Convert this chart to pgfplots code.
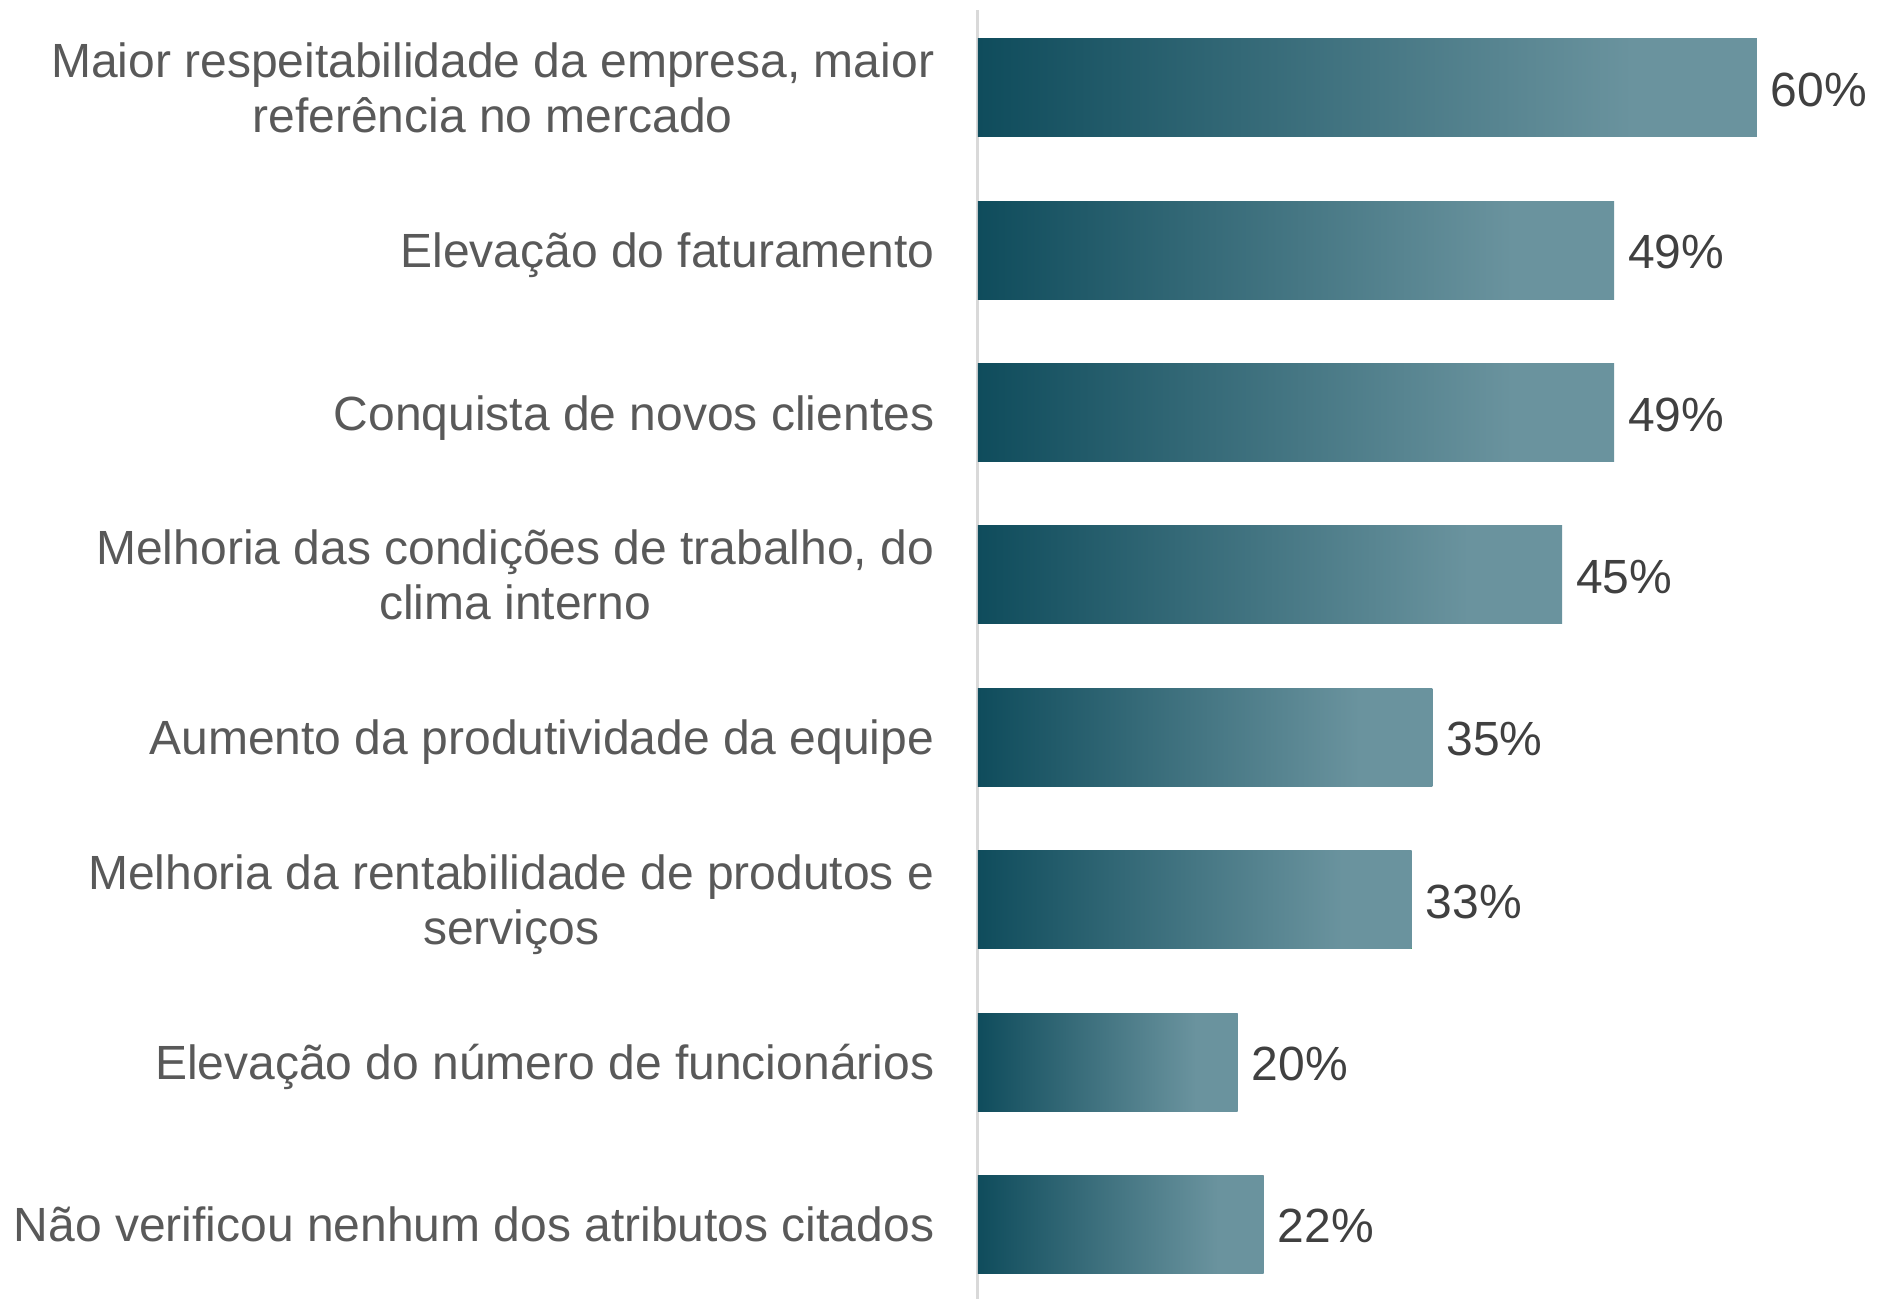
\documentclass[border=0pt]{standalone}
\usepackage{pgfplots}
\pgfplotsset{compat=1.18}
\usepackage{fontspec}
\setmainfont{Liberation Sans}
\definecolor{bardark}{HTML}{0F4C5C}
\definecolor{barlight}{HTML}{6A939E}
\definecolor{lblgray}{HTML}{595959}
\definecolor{valgray}{HTML}{404040}
\definecolor{axgray}{HTML}{D9D9D9}
\pgfdeclarehorizontalshading{barshade}{100bp}{color(0bp)=(bardark); color(25bp)=(bardark); color(67bp)=(barlight); color(100bp)=(barlight)}
\begin{document}
\begin{tikzpicture}
\path[use as bounding box] (-244.5pt,0pt) rectangle (225.75pt,324.75pt);
\begin{axis}[
  at={(0pt,0pt)}, anchor=south west,
  xbar, scale only axis,
  width=220.66pt, height=322.25pt,
  xmin=0, xmax=68, ymin=-0.48, ymax=7.46, y dir=reverse,
  axis x line=none, axis y line*=left,
  y axis line style={draw=axgray, line width=0.75pt},
  ytick={0,...,7},
  yticklabels={{Maior respeitabilidade da empresa, maior\\referência no mercado},
    {Elevação do faturamento},
    {Conquista de novos clientes},
    {Melhoria das condições de trabalho, do\\clima interno},
    {Aumento da produtividade da equipe},
    {Melhoria da rentabilidade de produtos e\\serviços},
    {Elevação do número de funcionários},
    {Não verificou nenhum dos atributos citados}},
  major tick length=0pt,
  yticklabel style={align=center, font=\fontsize{12}{13.75}\selectfont, text=lblgray, anchor=east, inner sep=0pt, text depth=0pt, xshift=-10.75pt},
  bar width=24.5pt, bar shift=0pt,
  point meta=explicit,
  /pgf/number format/assume math mode=true,
  nodes near coords={\pgfmathprintnumber{\pgfplotspointmeta}\%},
  nodes near coords style={font=\fontsize{12}{13.75}\selectfont, text=valgray, anchor=west, yshift=-0.5pt},
  every axis plot/.append style={draw=none, shade, shading=barshade},
]
\addplot coordinates {(60,0) [60]};
\addplot coordinates {(49,1) [49]};
\addplot coordinates {(49,2) [49]};
\addplot coordinates {(45,3) [45]};
\addplot coordinates {(35,4) [35]};
\addplot coordinates {(33.4,5) [33]};
\addplot coordinates {(20,6) [20]};
\addplot coordinates {(22,7) [22]};
\end{axis}
\end{tikzpicture}
\end{document}
